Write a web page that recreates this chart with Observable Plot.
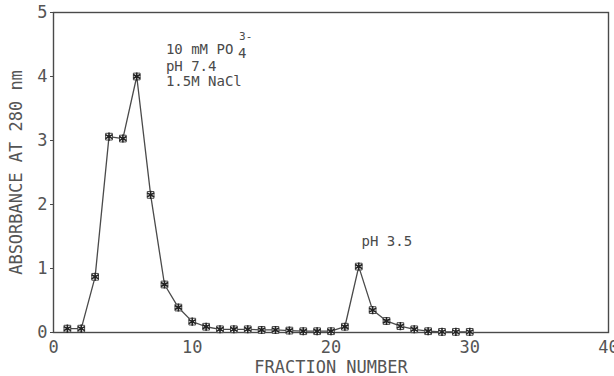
<!DOCTYPE html>
<html><head><meta charset="utf-8">
<script src="https://cdn.jsdelivr.net/npm/d3@7"></script>
<script src="https://cdn.jsdelivr.net/npm/@observablehq/plot@0.6"></script>
<style>
body{margin:0;background:#fff;}
</style>
</head><body><div id="chart"></div>
<script>
const fractions = [1,2,3,4,5,6,7,8,9,10,11,12,13,14,15,16,17,18,19,20,21,22,23,24,25,26,27,28,29,30];
const absorbance = [0.06,0.06,0.87,3.06,3.03,4.00,2.15,0.75,0.39,0.17,0.09,0.05,0.05,0.05,0.04,0.04,0.03,0.02,0.02,0.02,0.09,1.03,0.35,0.18,0.10,0.05,0.02,0.01,0.01,0.01];
const xTicks = [0,10,20,30,40];
const yTicks = [0,1,2,3,4,5];
const xLabel = "FRACTION NUMBER";
const yLabel = "ABSORBANCE AT 280 nm";
const notes = [
  {x: 8.1, y: 4.42, text: "10 mM PO"},
  {x: 8.1, y: 4.16, text: "pH 7.4"},
  {x: 8.1, y: 3.92, text: "1.5M NaCl"},
  {x: 22.2, y: 1.42, text: "pH 3.5"}
];
const subNote = [{x: 13.3, y: 4.42, text: "4"}];
const supNote = [{x: 13.3, y: 4.42, text: "3-"}];

const data = fractions.map((f,i) => ({f, a: absorbance[i]}));
const ink = "#4a4a4a";
const mono = "DejaVu Sans Mono";

const chart = Plot.plot({
  width: 614, height: 376,
  marginLeft: 53, marginRight: 6, marginTop: 12, marginBottom: 44,
  style: {fontFamily: mono, color: ink, background: "#fff"},
  x: {domain: [0,40]},
  y: {domain: [0,5]},
  marks: [
    Plot.frame({stroke: ink, strokeWidth: 1.4}),
    Plot.axisX({ticks: xTicks, tickFormat: "d", tickSize: 0, tickPadding: 8, fontSize: 17, fontFamily: mono, fill: "#555",
      label: xLabel, labelAnchor: "center", labelArrow: "none", labelOffset: 40}),
    Plot.axisY({ticks: yTicks, tickFormat: "d", tickSize: 3, tickPadding: 3, fontSize: 17, fontFamily: mono, fill: "#555",
      label: yLabel, labelAnchor: "center", labelArrow: "none", labelOffset: 44}),
    Plot.line(data, {x: "f", y: "a", stroke: ink, strokeWidth: 1.3}),
    Plot.dot(data, {x: "f", y: "a", symbol: "square", r: 3.8, stroke: ink, strokeWidth: 1, fill: "#fff"}),
    Plot.dot(data, {x: "f", y: "a", symbol: "asterisk", r: 3.8, stroke: "#222", strokeWidth: 1.6}),
    Plot.text(notes, {x: "x", y: "y", text: "text", textAnchor: "start", fontSize: 14, fontFamily: mono, fill: ink}),
    Plot.text(subNote, {x: "x", y: "y", text: "text", textAnchor: "start", dy: 4, fontSize: 14, fontFamily: mono, fill: ink}),
    Plot.text(supNote, {x: "x", y: "y", text: "text", textAnchor: "start", dx: 1, dy: -13, fontSize: 11, fontFamily: mono, fill: ink})
  ]
});
document.getElementById("chart").appendChild(chart);
</script>
</body></html>
